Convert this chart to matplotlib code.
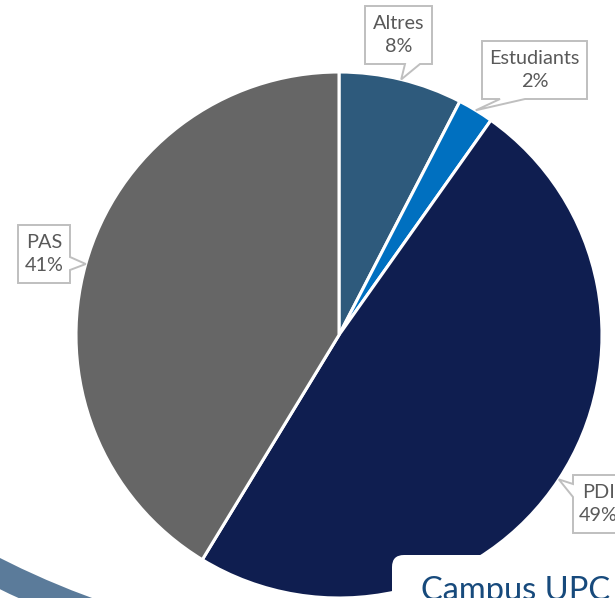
import matplotlib
matplotlib.use("Agg")
import matplotlib.pyplot as plt
from matplotlib.patches import Polygon, FancyBboxPatch, Wedge
import numpy as np

# ---- data ----
categories = ["Altres", "Estudiants", "PDI", "PAS"]
values = [7.6, 2.2, 48.9, 41.3]
colors = ["#2E5A7C", "#0070C0", "#0F1E50", "#666666"]
title_text = "Campus UPC"

W, H = 615, 598
def Y(y):
    return H - y

plt.rcParams['font.family'] = ['Lato', 'DejaVu Sans']

fig = plt.figure(figsize=(W / 100, H / 100), dpi=100)
ax = fig.add_axes([0, 0, 1, 1])

# decorative band bottom-left
band = Wedge((380, Y(-190)), 867, 180, 300, width=28, facecolor="#5B7B9A", edgecolor="none", zorder=0)
ax.add_patch(band)

cx, cy, R = 339, 335, 263
wedges, _ = ax.pie(values, colors=colors, startangle=90, counterclock=False,
                   center=(cx, Y(cy)), radius=R,
                   wedgeprops=dict(edgecolor="white", linewidth=2.2))
for w in wedges:
    w.set_zorder(2)

total = sum(values)
pcts = [round(v / total * 100) for v in values]

# callout layout: box (x0, y0, x1, y1) in image px, side, base positions along side
layout = {
    "Altres": ((365, 6, 432, 64), "bottom", (405, 420)),
    "Estudiants": ((482, 41, 587, 99), "bottom", (500, 525)),
    "PAS": ((18, 225, 70, 283), "right", (257, 270)),
    "PDI": ((573, 475, 624, 533), "left", (484, 497)),
}

for w, name, p in zip(wedges, categories, pcts):
    mid = np.deg2rad((w.theta1 + w.theta2) / 2)
    tx = cx + R * np.cos(mid)
    ty = cy - R * np.sin(mid)
    (x0, y0, x1, y1), side, (a, b) = layout[name]
    lo, hi = min(a, b), max(a, b)
    if side == "bottom":
        pts = [(x0, y0), (x1, y0), (x1, y1), (hi, y1), (tx, ty), (lo, y1), (x0, y1)]
    elif side == "right":
        pts = [(x0, y0), (x1, y0), (x1, lo), (tx, ty), (x1, hi), (x1, y1), (x0, y1)]
    elif side == "left":
        pts = [(x0, y0), (x1, y0), (x1, y1), (x0, y1), (x0, hi), (tx, ty), (x0, lo)]
    else:
        pts = [(x0, y0), (x1, y0), (x1, y1), (x0, y1)]
    poly = Polygon([(x, Y(y)) for x, y in pts], closed=True, facecolor="white",
                   edgecolor="#BFBFBF", linewidth=1.4, zorder=3, joinstyle="miter")
    ax.add_patch(poly)
    ax.text((x0 + x1) / 2, Y((y0 + y1) / 2), f"{name}\n{p}%", ha="center", va="center",
            fontsize=14.3, color="#595959", linespacing=1.38, zorder=4)

# white title box bottom-right
box = FancyBboxPatch((392, Y(700)), 400, 145, boxstyle="round,pad=0,rounding_size=12",
                     facecolor="white", edgecolor="none", zorder=5)
ax.add_patch(box)
ax.text(421, Y(600), title_text, ha="left", va="baseline", fontsize=23.5,
        color="#174A7C", zorder=6)

ax.set_xlim(0, W)
ax.set_ylim(0, H)
ax.set_aspect("auto")
ax.axis("off")
fig.savefig("out.png", dpi=100)
